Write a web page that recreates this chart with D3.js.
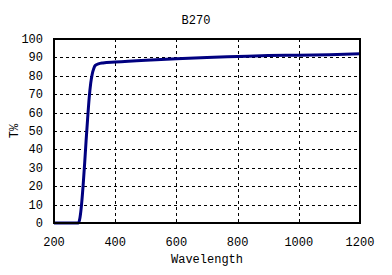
<!DOCTYPE html>
<html>
<head>
<meta charset="utf-8">
<script src="https://cdn.jsdelivr.net/npm/d3@7"></script>
<style>
  body { margin: 0; background: #fff; }
  text { font-family: "Liberation Mono", "DejaVu Sans Mono", monospace; font-size: 12px; fill: #000; }
</style>
</head>
<body>
<div id="chart"></div>
<script>
// transmission curve
var wavelength = [200, 280, 285, 290, 295, 300, 305, 310, 315, 320, 325, 330, 335, 345, 360, 400, 500, 600, 700, 800, 900, 1000, 1100, 1200];
var transmission = [0, 0, 3, 10, 20, 32, 45, 57, 68, 76, 81, 84, 85.7, 86.5, 87, 87.5, 88.5, 89.3, 90, 90.5, 91, 91.2, 91.5, 92];
var xTicks = [200, 400, 600, 800, 1000, 1200];
var yTicks = [0, 10, 20, 30, 40, 50, 60, 70, 80, 90, 100];

var W = 392, H = 275;
var plotL = 54, plotR = 360, plotT = 39, plotB = 223;

var svg = d3.select("#chart").append("svg")
  .attr("width", W)
  .attr("height", H);

var x = d3.scaleLinear().domain([200, 1200]).range([plotL, plotR]);
var y = d3.scaleLinear().domain([0, 100]).range([plotB, plotT]);

// grid
svg.selectAll("line.gx").data(xTicks.slice(1, -1)).enter()
  .append("line")
  .attr("class", "gx")
  .attr("x1", function(d) { return Math.round(x(d)) + 0.5; })
  .attr("x2", function(d) { return Math.round(x(d)) + 0.5; })
  .attr("y1", plotT).attr("y2", plotB)
  .attr("stroke", "#000").attr("stroke-dasharray", "3,3");

svg.selectAll("line.gy").data(yTicks.slice(1, -1)).enter()
  .append("line")
  .attr("class", "gy")
  .attr("y1", function(d) { return Math.round(y(d)) + 0.5; })
  .attr("y2", function(d) { return Math.round(y(d)) + 0.5; })
  .attr("x1", plotL).attr("x2", plotR)
  .attr("stroke", "#000").attr("stroke-dasharray", "3,3");

// curve
var pts = wavelength.map(function(w, i) { return [w, transmission[i]]; });
var line = d3.line()
  .x(function(d) { return x(d[0]); })
  .y(function(d) { return y(d[1]); })
  .curve(d3.curveMonotoneX);

svg.append("path")
  .datum(pts)
  .attr("d", line)
  .attr("fill", "none")
  .attr("stroke", "#000080")
  .attr("stroke-width", 3);

// frame
svg.append("rect")
  .attr("x", plotL).attr("y", plotT)
  .attr("width", plotR - plotL).attr("height", plotB - plotT)
  .attr("fill", "none").attr("stroke", "#000").attr("stroke-width", 2);

// tick labels
svg.selectAll("text.ty").data(yTicks).enter()
  .append("text")
  .attr("class", "ty")
  .attr("x", 43)
  .attr("y", function(d) { return y(d) + 4; })
  .attr("text-anchor", "end")
  .text(function(d) { return d; });

svg.selectAll("text.tx").data(xTicks).enter()
  .append("text")
  .attr("class", "tx")
  .attr("x", function(d) { return x(d); })
  .attr("y", 246)
  .attr("text-anchor", "middle")
  .text(function(d) { return d; });

svg.append("text")
  .attr("x", 196).attr("y", 24)
  .attr("text-anchor", "middle")
  .text("B270");

svg.append("text")
  .attr("x", (plotL + plotR) / 2).attr("y", 263)
  .attr("text-anchor", "middle")
  .text("Wavelength");

svg.append("text")
  .attr("transform", "translate(18,131) rotate(-90)")
  .attr("text-anchor", "middle")
  .text("T%");
</script>
</body>
</html>
